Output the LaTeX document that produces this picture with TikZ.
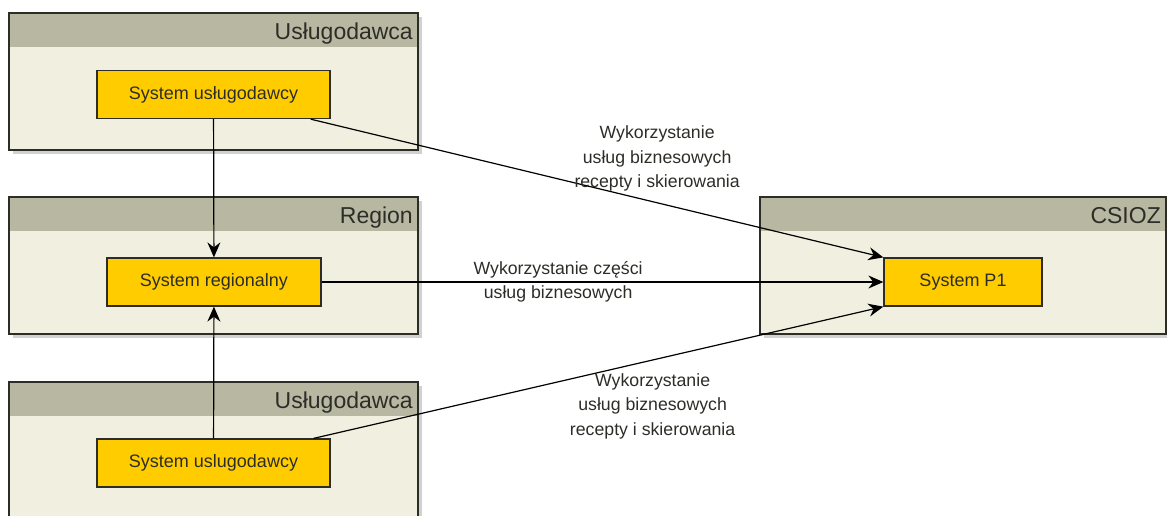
\documentclass[tikz,border=0pt]{standalone}
\usepackage{fontspec}
\setmainfont{Liberation Sans}
\usetikzlibrary{arrows.meta,shadows}
\definecolor{areabg}{RGB}{241,239,223}
\definecolor{areahd}{RGB}{184,183,162}
\definecolor{sysfill}{RGB}{255,204,0}
\definecolor{ink}{RGB}{45,45,40}

\begin{document}
\begin{tikzpicture}[x=1pt,y=-1pt,
    area/.style={fill=areabg,outer sep=0pt,inner sep=0pt,
      drop shadow={shadow xshift=4pt,shadow yshift=-4pt,opacity=1,fill=black!18}},
    frame/.style={draw=ink,line width=1.6pt},
    title/.style={text=ink,font=\fontsize{23}{27}\selectfont,inner sep=0pt},
    sys/.style={draw=ink,fill=sysfill,line width=1.3pt,text=ink,
      minimum height=48pt,font=\fontsize{18}{22}\selectfont},
    lbl/.style={align=center,text=ink,font=\fontsize{17.7}{24.5}\selectfont},
    link/.style={draw=black,line width=1.2pt,
      -{Stealth[length=15pt,width=13pt,inset=5pt]}}]
    \useasboundingbox (0,0) rectangle (1167,515);
    \clip (0,0) rectangle (1167,515);

    % containers
    \node[area,minimum width=409pt,minimum height=137pt] (prov1) at (213.5,81.5) {};
    \node[area,minimum width=409pt,minimum height=137pt] (region) at (213.5,265.5) {};
    \node[area,minimum width=409pt,minimum height=148pt] (prov2) at (213.5,456) {};
    \node[area,minimum width=406pt,minimum height=137pt] (csioz) at (963,265.5) {};

    \foreach \c/\t in {prov1/Usługodawca,region/Region,prov2/Usługodawca,csioz/CSIOZ}{
      \fill[areahd] (\c.north west) rectangle ([yshift=-34pt]\c.north east);
      \draw[frame] (\c.north west) rectangle (\c.south east);
      \node[title,anchor=base east] (\c-t) at ([xshift=-5pt,yshift=-26pt]\c.north east) {\t};
    }

    % systems
    \node[sys,minimum width=233pt] (sys1) at (213.5,94.5) {System usługodawcy};
    \node[sys,minimum width=214pt] (sysreg) at (214,282) {System regionalny};
    \node[sys,minimum width=233pt] (sys2) at (213.5,463) {System uslugodawcy};
    \node[sys,minimum width=158pt] (p1) at (963,282) {System P1};

    \draw[link] (sys1) -- (sysreg);
    \draw[link] (sys2) -- (sysreg);
    \draw[link] ([xshift=-20pt]sys1.south east) --
      node[lbl,pos=0.605,yshift=44pt] (use1) {Wykorzystanie\\usług biznesowych\\recepty i skierowania} (p1.north west);
    \draw[link] (sysreg) --
      node[lbl,pos=0.421] (use2) {Wykorzystanie części\\usług biznesowych} (p1);
    \draw[link] ([xshift=-17pt]sys2.north east) --
      node[lbl,pos=0.595,yshift=-46pt] (use3) {Wykorzystanie\\usług biznesowych\\recepty i skierowania} (p1.south west);
\end{tikzpicture}
\end{document}
